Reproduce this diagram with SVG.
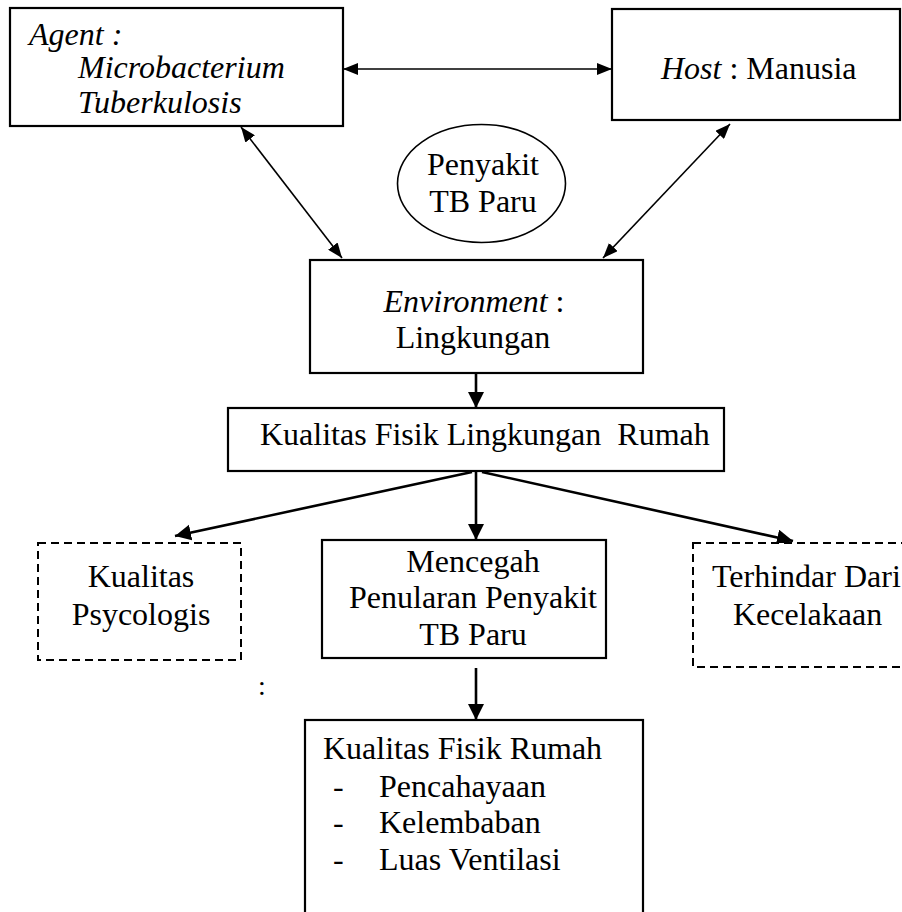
<svg xmlns="http://www.w3.org/2000/svg" width="902" height="912" viewBox="0 0 902 912">
<style>
text{font-family:"Liberation Serif","Times New Roman",serif;font-size:32px;fill:#000;white-space:pre}
.it{font-style:italic}
.box{fill:#fff;stroke:#000;stroke-width:2.2}
.dash{fill:#fff;stroke:#000;stroke-width:2;stroke-dasharray:8 5}
.thin{fill:none;stroke:#000;stroke-width:1.6}
.thick{fill:none;stroke:#000;stroke-width:2.6}
.mid{text-anchor:middle}
</style>
<defs>
<marker id="ah" markerUnits="userSpaceOnUse" markerWidth="16" markerHeight="12" refX="15" refY="6" orient="auto-start-reverse">
<path d="M0,0 L15,6 L0,12 z" fill="#000"/>
</marker>
<marker id="ah2" markerUnits="userSpaceOnUse" markerWidth="17" markerHeight="17" refX="16" refY="8" orient="auto">
<path d="M0,0 L16,8 L0,16 z" fill="#000"/>
</marker>
</defs>
<rect width="902" height="912" fill="#fff"/>
<g id="connectors">
<line class="thin" x1="343" y1="69" x2="612" y2="69" marker-start="url(#ah)" marker-end="url(#ah)"/>
<line class="thin" x1="241" y1="127" x2="342" y2="258" marker-start="url(#ah)" marker-end="url(#ah)"/>
<line class="thin" x1="730" y1="124" x2="603" y2="258" marker-start="url(#ah)" marker-end="url(#ah)"/>
<line class="thick" x1="476" y1="373" x2="476" y2="408" marker-end="url(#ah2)"/>
<line class="thick" x1="472" y1="472" x2="175" y2="536" marker-end="url(#ah2)"/>
<line class="thick" x1="476" y1="472" x2="476" y2="540" marker-end="url(#ah2)"/>
<line class="thick" x1="482" y1="472" x2="793" y2="541" marker-end="url(#ah2)"/>
<line class="thick" x1="476" y1="668" x2="476" y2="720" marker-end="url(#ah2)"/>
</g>
<g id="agent">
<rect class="box" x="10" y="8" width="333" height="118"/>
<text class="it" x="29" y="45">Agent :</text>
<text class="it" x="78" y="78">Microbacterium</text>
<text class="it" x="78" y="113">Tuberkulosis</text>
</g>
<g id="host">
<rect class="box" x="612" y="9" width="288" height="111"/>
<text x="661" y="79"><tspan class="it">Host</tspan> : Manusia</text>
</g>
<g id="penyakit">
<ellipse cx="481.5" cy="183.5" rx="84" ry="59" fill="#fff" stroke="#000" stroke-width="1.6"/>
<text class="mid" x="483" y="175">Penyakit</text>
<text class="mid" x="483" y="212">TB Paru</text>
</g>
<g id="environment">
<rect class="box" x="310" y="260" width="333" height="113"/>
<text class="mid" x="474" y="312"><tspan class="it">Environment</tspan> :</text>
<text class="mid" x="473" y="348">Lingkungan</text>
</g>
<g id="kualitas-lingkungan">
<rect class="box" x="228" y="408" width="496" height="63"/>
<text x="260" y="445">Kualitas Fisik Lingkungan  Rumah</text>
</g>
<g id="psycologis">
<rect class="dash" x="38" y="543" width="203" height="117"/>
<text class="mid" x="141" y="587">Kualitas</text>
<text class="mid" x="141" y="625">Psycologis</text>
</g>
<g id="mencegah">
<rect class="box" x="322" y="540" width="284" height="118"/>
<text class="mid" x="473" y="572">Mencegah</text>
<text class="mid" x="473" y="608">Penularan Penyakit</text>
<text class="mid" x="473" y="645">TB Paru</text>
</g>
<g id="terhindar">
<rect class="dash" x="693" y="543" width="230" height="124"/>
<text x="712" y="587">Terhindar Dari</text>
<text x="733" y="625">Kecelakaan</text>
</g>
<g id="colon">
<text x="258" y="695" style="font-size:28px">:</text>
</g>
<g id="kualitas-rumah">
<rect class="box" x="305" y="720" width="338" height="210"/>
<text x="323" y="759">Kualitas Fisik Rumah</text>
<text x="333" y="797">-</text><text x="379" y="797">Pencahayaan</text>
<text x="333" y="833">-</text><text x="379" y="833">Kelembaban</text>
<text x="333" y="870">-</text><text x="379" y="870">Luas Ventilasi</text>
</g>
</svg>
